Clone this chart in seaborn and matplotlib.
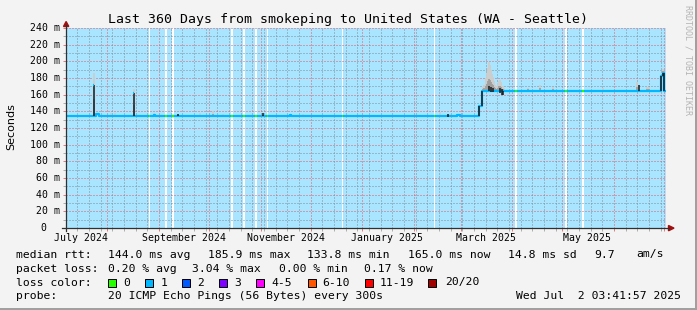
import numpy as np
import pandas as pd
import matplotlib
matplotlib.use("Agg")
import matplotlib.pyplot as plt
import matplotlib.dates as mdates
from matplotlib.lines import Line2D
from matplotlib.patches import Polygon, Rectangle
import seaborn as sns

W, H = 697, 310
MONO = "DejaVu Sans Mono"

# ---------------- data ----------------
start = pd.Timestamp("2024-07-07 03:41:57")
end = pd.Timestamp("2025-07-02 03:41:57")

# median rtt step series (days since start, ms)
med_day = [0, 18.0, 19.8, 52.8, 53.4, 134.2, 134.8, 234.4, 236.4, 247.6, 249.4, 357.0, 358.2, 358.8, 360]
med_ms = [134, 137, 134, 136, 134, 136, 134, 135.5, 134, 147, 165, 182, 186, 165, 165]

# periods with zero packet loss (days since start)
zl_start = [49.8, 59.2, 63.4, 98.8, 106.2, 113.4, 120.4, 165.4, 220.8, 269.4, 299.4, 309.4]
zl_end = [50.4, 60.4, 64.6, 100.4, 107.4, 114.4, 121.4, 166.4, 221.6, 270.4, 300.4, 310.8]

# dark vertical excursions of the median (days, low ms, high ms)
spk_day = [16.6, 40.6, 67.4, 118.2, 229.0, 247.6, 249.4, 253.8, 255.0, 256.2, 260.4, 261.6, 262.4, 343.6, 357.0, 358.4, 358.8]
spk_lo = [134, 134, 134, 134, 133, 134, 147, 164, 163, 163, 162, 160, 160, 165, 165, 182, 165]
spk_hi = [172, 162, 137, 138, 137, 147, 165, 170, 169, 168, 168, 167, 165, 172, 182, 186, 186]

# loss-coloured tips on top of spikes
tip_day = [16.2, 40.2]
tip_ms = [172, 162]

# smoke (days, top ms)
smk_day = [16.6, 16.9, 40.6, 27.0, 29.4, 52.6, 80.6, 88.2, 94.2, 142.2, 224.4, 230.4, 250.2, 250.8,
           252.0, 252.5, 252.9, 253.5, 254.1, 254.7, 255.3, 255.9, 256.5, 257.0, 257.4, 258.0, 258.6, 259.2,
           259.8, 260.4, 261.0, 261.6, 262.2, 262.8, 277.2, 284.4, 292.2, 322.2, 342.6, 348.6, 349.8, 358.2]
smk_hi = [186, 180, 167, 138, 138, 138, 138, 141, 137, 137, 139.5, 137, 169, 172,
          180, 186, 192, 199, 196, 190, 185, 181, 176, 174, 172, 171, 170, 174,
          177, 178, 175, 171, 170, 168, 168.5, 171.5, 169.5, 168, 175.5, 169, 169, 191]

y_ticks = [0, 20, 40, 60, 80, 100, 120, 140, 160, 180, 200, 220, 240]
month_labels = ["July 2024", "September 2024", "November 2024", "January 2025", "March 2025", "May 2025"]
month_label_dates = ["2024-07-16", "2024-09-16", "2024-11-16", "2025-01-16", "2025-03-16", "2025-05-16"]

title = "Last 360 Days from smokeping to United States (WA - Seattle)"
rtt_items = [("median rtt:", 16), ("144.0 ms avg", 107.6), ("185.9 ms max", 207.6), ("133.8 ms min", 306.7),
             ("165.0 ms now", 407.6), ("14.8 ms sd", 507.6), ("9.7", 593.8), ("am/s", 636.4)]
loss_items = [("packet loss:", 16), ("0.20 % avg", 107.6), ("3.04 % max", 192.4), ("0.00 % min", 279),
              ("0.17 % now", 364.4)]
loss_labels = ["0", "1", "2", "3", "4-5", "6-10", "11-19", "20/20"]
loss_colors = ["#26ff00", "#00b8ff", "#0059ff", "#7e00ff", "#ff00ff", "#ff5500", "#ff0000", "#a00000"]
loss_box_x = [108, 145, 182, 219, 256, 307.6, 365, 427.6]
loss_lab_x = [123.5, 160.4, 197, 234, 271.6, 322, 380, 445]
probe_text = "20 ICMP Echo Pings (56 Bytes) every 300s"
date_text = "Wed Jul  2 03:41:57 2025"

# ---------------- helpers ----------------
def tnum(days):
    return mdates.date2num(start + pd.to_timedelta(np.asarray(days, float), unit="D"))

med_day_a = np.asarray(med_day, float)
med_ms_a = np.asarray(med_ms, float)

def med_at(d):
    i = np.searchsorted(med_day_a, np.asarray(d, float), side="right") - 1
    return med_ms_a[np.clip(i, 0, len(med_ms_a) - 1)]

BG = "#f3f3f3"
BLUE = "#aae5ff"
LINE1 = "#00b8ff"
GREEN = "#26ff00"

fig = plt.figure(figsize=(W / 100, H / 100), dpi=100, facecolor=BG)
ax = fig.add_axes([66 / W, 1 - 228 / H, 600 / W, 200 / H])
ax.set_facecolor(BLUE)
for s in ax.spines.values():
    s.set_visible(False)

x0, x1 = mdates.date2num(start), mdates.date2num(end)

# zero loss background
for a, b in zip(zl_start, zl_end):
    ax.axvspan(tnum(a), tnum(b), color="white", lw=0, zorder=1)

# smoke
sd = np.asarray(smk_day, float)
sh = np.asarray(smk_hi, float)
base = med_at(sd)
ax.vlines(tnum(sd), base, sh, color="#cdcdcd", lw=1.3, zorder=2)
ax.vlines(tnum(sd), base, base + 0.4 * (sh - base), color="#a0a0a0", lw=1.3, zorder=2.1)

# median line via seaborn
df = pd.DataFrame({"t": tnum(med_day), "rtt": med_ms})
sns.lineplot(data=df, x="t", y="rtt", drawstyle="steps-post", color=LINE1, lw=1.6,
             sort=False, estimator=None, ax=ax, zorder=3)

# zero-loss green segments
for a, b in zip(zl_start, zl_end):
    v = float(med_at(a))
    ax.hlines(v, tnum(a), tnum(b), color=GREEN, lw=1.6, zorder=3.1)

# spikes
ax.vlines(tnum(spk_day), spk_lo, spk_hi, color="#1a1a1a", lw=1.1, zorder=3.5)
ax.hlines(tip_ms, tnum(tip_day), tnum(np.asarray(tip_day) + 0.5), color=LINE1, lw=1.6, zorder=3.6)

ax.set_xlim(x0, x1)
ax.set_ylim(0, 240)
ax.set_xlabel("")
ax.set_ylabel("")

# grid
majors = mdates.date2num(pd.date_range("2024-08-01", "2025-07-01", freq="MS"))
minors = mdates.date2num(pd.date_range("2024-07-14", "2025-06-29", freq="W-SUN"))
ax.set_xticks(majors)
ax.set_xticks(minors, minor=True)
ax.set_yticks(y_ticks)
ax.set_yticks([v + 10 for v in y_ticks[:-1]], minor=True)
GRIDC = (0.5, 0.55, 0.6, 0.4)
MGRIDC = (0.88, 0.35, 0.4, 0.45)
ax.grid(which="minor", color=GRIDC, ls=(0, (1, 2)), lw=0.72)
ax.grid(which="major", color=MGRIDC, ls=(0, (1, 2)), lw=0.72)
ax.tick_params(which="major", length=2, width=0.72, color=(0.85, 0.3, 0.3, 0.7), labelbottom=False, labelleft=False)
ax.tick_params(which="minor", length=2, width=0.72, color=(0.5, 0.5, 0.5, 0.6), labelbottom=False, labelleft=False)

# y tick labels
ytr = ax.get_yaxis_transform()
for v in y_ticks:
    if v == 0:
        ax.text(-19.5 / 600, v, "0", transform=ytr, ha="right", va="center", family=MONO, size=7.1)
    else:
        ax.text(-5.5 / 600, v, f"{v} m", transform=ytr, ha="right", va="center", family=MONO, size=7.1)

# x labels
xtr = ax.get_xaxis_transform()
for lab, d in zip(month_labels, month_label_dates):
    ax.text(mdates.date2num(pd.Timestamp(d)), -10.3 / 200, lab, transform=xtr, ha="center", va="center",
            family=MONO, size=7.1)

def P(x, y):
    return (x / W, 1 - y / H)

def ftext(x, y, s, **kw):
    kw.setdefault("family", MONO)
    fig.text(x / W, 1 - y / H, s, **kw)

# axis lines and arrows
AXC = "#303030"
ARC = "#a01010"
fig.add_artist(Line2D([66 / W, 66 / W], [1 - 231 / H, 1 - 25 / H], color=AXC, lw=0.9, transform=fig.transFigure))
fig.add_artist(Line2D([62 / W, 669 / W], [1 - 228 / H, 1 - 228 / H], color=AXC, lw=0.9, transform=fig.transFigure))
fig.add_artist(Polygon([P(63.5, 26.5), P(68.8, 26.5), P(66.1, 21.5)], closed=True, color=ARC,
                       transform=fig.transFigure))
fig.add_artist(Polygon([P(668.5, 225.5), P(668.5, 230.8), P(674, 228.1)], closed=True, color=ARC,
                       transform=fig.transFigure))

# title, labels, watermark
ftext(347.5, 19.5, title, ha="center", va="center", size=9.5)
ftext(11.5, 127, "Seconds", ha="center", va="center", rotation=90, family="DejaVu Sans", size=8)
ftext(688, 5, "RRDTOOL / TOBI OETIKER", ha="center", va="top", rotation=270, size=6, color="#b4b4b4")

# legend
for s, x in rtt_items:
    ftext(x, 254.5, s, ha="left", va="center", size=8.2)
for s, x in loss_items:
    ftext(x, 268.5, s, ha="left", va="center", size=8.2)
ftext(16, 282.5, "loss color:", ha="left", va="center", size=8.2)
for lab, c, bx, lx in zip(loss_labels, loss_colors, loss_box_x, loss_lab_x):
    fig.add_artist(Rectangle(P(bx, 286.5), 8 / W, 8 / H, facecolor=c, edgecolor="black", lw=0.72,
                             transform=fig.transFigure))
    ftext(lx, 282.5, lab, ha="left", va="center", size=8.2)
ftext(16, 296.3, "probe:", ha="left", va="center", size=8.2)
ftext(107.6, 296.3, probe_text, ha="left", va="center", size=8.2)
ftext(680.5, 296.3, date_text, ha="right", va="center", size=8.2)

# frame shade
fig.add_artist(Rectangle((0, 0), 1, 2 / H, color="#a0a0a0", transform=fig.transFigure, lw=0))
fig.add_artist(Rectangle((1 - 2 / W, 0), 2 / W, 1, color="#a0a0a0", transform=fig.transFigure, lw=0))

fig.savefig("out.png", dpi=100, facecolor=BG)
